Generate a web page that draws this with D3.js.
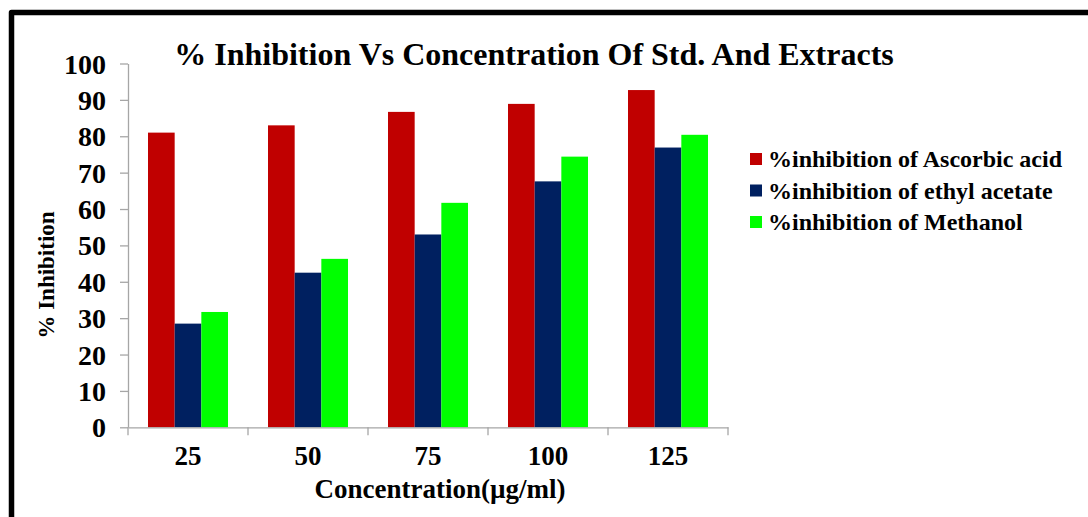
<!DOCTYPE html>
<html>
<head>
<meta charset="utf-8">
<script src="https://cdn.jsdelivr.net/npm/d3@7"></script>
<style>
  html, body { margin: 0; padding: 0; background: #fff; }
  svg { display: block; }
  text { font-family: "Liberation Serif", "Times New Roman", serif; font-weight: bold; fill: #000; }
</style>
</head>
<body>
<svg id="chart" width="1088" height="517"></svg>
<script>
const categories = ["25", "50", "75", "100", "125"];
const seriesNames = [
  "%inhibition of Ascorbic acid",
  "%inhibition of ethyl acetate",
  "%inhibition of Methanol"
];
const ascorbic = [81.0, 83.0, 86.7, 88.9, 92.7];
const ethylAcetate = [28.5, 42.5, 53.0, 67.6, 76.9];
const methanol = [31.7, 46.3, 61.7, 74.4, 80.4];
const yTicks = [0, 10, 20, 30, 40, 50, 60, 70, 80, 90, 100];
const colors = ["#C00000", "#002060", "#00FF00"];

const seriesValues = [ascorbic, ethylAcetate, methanol];
const rows = categories.map((c, i) => ({
  cat: c,
  vals: seriesNames.map((s, j) => ({ key: s, value: seriesValues[j][i], color: colors[j] }))
}));

const svg = d3.select("#chart");

// frame
svg.append("path")
  .attr("d", "M11.5,530 L11.5,12.5 L1100,12.5")
  .attr("fill", "none").attr("stroke", "#000").attr("stroke-width", 5.5)
  .attr("stroke-linejoin", "round");

const plotLeft = 128, plotRight = 728, plotTop = 63.5, plotBottom = 427.3;
const y = d3.scaleLinear().domain([0, 100]).range([plotBottom, plotTop]);
const x0 = d3.scaleBand().domain(categories).range([plotLeft, plotRight]).padding(0);
const x1 = d3.scaleBand().domain(seriesNames).range([0, x0.bandwidth()]).paddingInner(0).paddingOuter(0.75);

// bars
const g = svg.append("g");
g.selectAll("g.cat").data(rows).join("g")
  .attr("class", "cat")
  .attr("transform", d => `translate(${x0(d.cat)},0)`)
  .selectAll("rect").data(d => d.vals).join("rect")
  .attr("x", d => x1(d.key))
  .attr("width", x1.bandwidth())
  .attr("y", d => y(d.value))
  .attr("height", d => y(0) - y(d.value))
  .attr("fill", d => d.color);

// y axis
const yAxis = svg.append("g").attr("transform", `translate(${plotLeft},0)`)
  .call(d3.axisLeft(y).tickValues(yTicks).tickSize(8).tickSizeOuter(0).tickPadding(14));
yAxis.select(".domain").attr("stroke", "#a6a6a6").attr("stroke-width", 1.3);
yAxis.selectAll(".tick line").attr("stroke", "#a6a6a6").attr("stroke-width", 1.3);
yAxis.selectAll(".tick text")
  .style("font-family", "'Liberation Serif', serif").style("font-weight", "bold")
  .style("font-size", "28px").attr("fill", "#000").attr("dy", "0.34em");

// x axis
const xAxis = svg.append("g").attr("transform", `translate(0,${plotBottom})`)
  .call(d3.axisBottom(x0).tickSize(0).tickSizeOuter(0).tickPadding(0));
xAxis.select(".domain").attr("stroke", "#a6a6a6").attr("stroke-width", 1.3);
xAxis.selectAll(".tick text")
  .style("font-family", "'Liberation Serif', serif").style("font-weight", "bold")
  .style("font-size", "27px").attr("fill", "#000")
  .attr("y", 38).attr("dy", 0);
const bounds = categories.map(c => x0(c)).concat([x0(categories[categories.length - 1]) + x0.bandwidth()]);
xAxis.selectAll("line.bound").data(bounds).join("line")
  .attr("class", "bound")
  .attr("x1", d => d).attr("x2", d => d)
  .attr("y1", 0).attr("y2", 8)
  .attr("stroke", "#a6a6a6").attr("stroke-width", 1.3);

// titles
svg.append("text").attr("x", 534).attr("y", 65).attr("text-anchor", "middle")
  .style("font-size", "32px").text("% Inhibition Vs Concentration Of Std. And Extracts");
svg.append("text").attr("x", 440).attr("y", 498).attr("text-anchor", "middle")
  .style("font-size", "27px").text("Concentration(µg/ml)");
svg.append("text").attr("transform", "translate(54,275) rotate(-90)").attr("text-anchor", "middle")
  .style("font-size", "23px").text("% Inhibition");

// legend
const legend = svg.append("g").attr("transform", "translate(750,167)");
const li = legend.selectAll("g").data(seriesNames).join("g")
  .attr("transform", (d, i) => `translate(0,${i * 31.5})`);
li.append("rect").attr("x", 0).attr("y", -14).attr("width", 12).attr("height", 12)
  .attr("fill", (d, i) => colors[i]);
li.append("text").attr("x", 18).attr("y", 0).style("font-size", "24px").text(d => d);
</script>
</body>
</html>
